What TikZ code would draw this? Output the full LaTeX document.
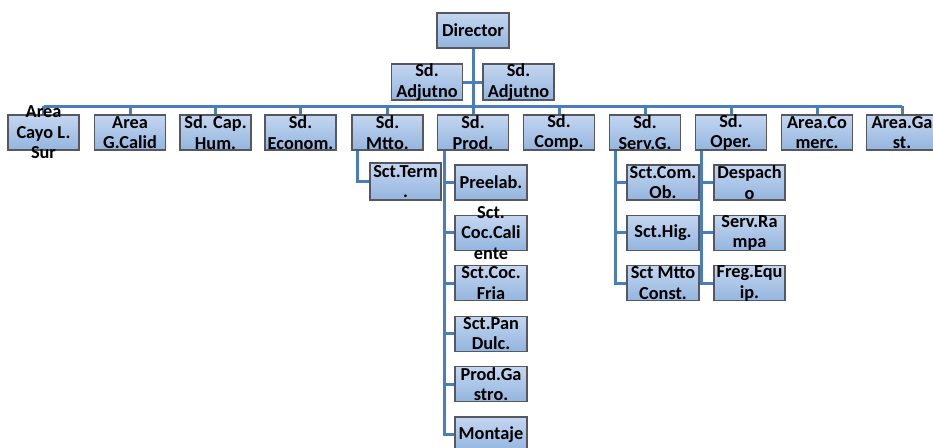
\documentclass[tikz,border=0pt]{standalone}
\usepackage{fontspec}
\newfontfamily\boxfont{Carlito}
\usetikzlibrary{backgrounds}
\definecolor{lineblue}{HTML}{4A7EBB}
\definecolor{boxtop}{RGB}{196,214,240}
\definecolor{boxbot}{RGB}{147,181,223}
\definecolor{boxline}{RGB}{85,88,96}
\tikzset{
  conn/.style={draw=lineblue, line width=3pt},
  box/.style={draw=boxline, line width=1.1pt, top color=boxtop, bottom color=boxbot,
    minimum width=71pt, minimum height=35pt, inner sep=0pt},
  txt/.style={align=center, font=\boxfont\bfseries\fontsize{18.3}{20.5}\selectfont, inner sep=0pt, text=black}
}
\begin{document}
\begin{tikzpicture}[x=1pt,y=-1pt]
\useasboundingbox (0,0) rectangle (933,447);
% top
\node[box, minimum width=72pt, label={[txt]center:Director}] (dir) at (473,30.5) {};
\node[box, minimum height=36pt, label={[txt]center:{Sd.\\Adjutno}}] (adj1) at (427,82) {};
\node[box, minimum height=36pt, label={[txt]center:{Sd.\\Adjutno}}] (adj2) at (518.5,82) {};
% level 2
\node[box, label={[txt]center:{Area\\Cayo L.\\Sur}}] (cayo) at (43.5,132.5) {};
\node[box, label={[txt]center:{Area\\G.Calid}}] (calid) at (130,132.5) {};
\node[box, label={[txt]center:{Sd. Cap.\\Hum.}}] (cap) at (215.5,132.5) {};
\node[box, label={[txt]center:{Sd.\\Econom.}}] (econ) at (300.5,132.5) {};
\node[box, label={[txt]center:{Sd.\\Mtto.}}] (mtto) at (387.5,132.5) {};
\node[box, label={[txt]center:{Sd.\\Prod.}}] (prod) at (473,132.5) {};
\node[box, label={[txt]center:{Sd.\\Comp.}}] (comp) at (559,132.5) {};
\node[box, label={[txt]center:{Sd.\\Serv.G.}}] (serv) at (645,132.5) {};
\node[box, label={[txt]center:{Sd.\\Oper.}}] (oper) at (731,132.5) {};
\node[box, label={[txt]center:{Area.Co\\merc.}}] (comerc) at (817,132.5) {};
\node[box, label={[txt]center:{Area.Ga\\st.}}] (gast) at (902,132.5) {};
% Mtto
\node[box, minimum height=37pt, label={[txt]center:{Sct.Term\\.}}] (term) at (405.5,181.5) {};
% Prod
\node[box, minimum width=72pt, label={[txt]center:{Preelab.}}] (pre) at (491,182.5) {};
\node[box, minimum width=72pt, label={[txt]center:{Sct.\\Coc.Cali\\ente}}] (cal) at (491,232.9) {};
\node[box, minimum width=72pt, label={[txt]center:{Sct.Coc.\\Fria}}] (fria) at (491,283.3) {};
\node[box, minimum width=72pt, label={[txt]center:{Sct.Pan\\Dulc.}}] (pan) at (491,333.7) {};
\node[box, minimum width=72pt, label={[txt]center:{Prod.Ga\\stro.}}] (gas) at (491,384.1) {};
\node[box, minimum width=72pt, label={[txt]center:{Montaje}}] (mont) at (491,434.5) {};
% Serv.G
\node[box, minimum width=72pt, label={[txt]center:{Sct.Com.\\Ob.}}] (ob) at (663,182.5) {};
\node[box, minimum width=72pt, label={[txt]center:{Sct.Hig.}}] (hig) at (663,232.9) {};
\node[box, minimum width=72pt, label={[txt]center:{Sct Mtto\\Const.}}] (const) at (663,283.3) {};
% Oper
\node[box, label={[txt]center:{Despach\\o}}] (desp) at (749.5,182.5) {};
\node[box, label={[txt]center:{Serv.Ra\\mpa}}] (ramp) at (749.5,232.9) {};
\node[box, label={[txt]center:{Freg.Equ\\ip.}}] (freg) at (749.5,283.3) {};

\begin{scope}[on background layer]
\coordinate (bus) at (0,106);
\draw[conn] (dir.south) -- (dir.south |- bus);
\draw[conn] (adj1.east) -- (adj2.west);
\draw[conn] (cayo.north |- bus) -- (gast.north |- bus);
\foreach \n in {cayo,calid,cap,econ,mtto,prod,comp,serv,oper,comerc,gast}
  \draw[conn] (\n.north |- bus) -- (\n.north);
\coordinate (mx) at ([xshift=6pt]mtto.south west);
\draw[conn] (mx) |- (term.west);
\coordinate (px) at ([xshift=8pt]prod.south west);
\draw[conn] (px) |- (mont.west);
\foreach \n in {pre,cal,fria,pan,gas}
  \draw[conn] (px |- \n.west) -- (\n.west);
\coordinate (sx) at ([xshift=7pt]serv.south west);
\draw[conn] (sx) |- (const.west);
\foreach \n in {ob,hig}
  \draw[conn] (sx |- \n.west) -- (\n.west);
\coordinate (ox) at ([xshift=7pt]oper.south west);
\draw[conn] (ox) |- (freg.west);
\foreach \n in {desp,ramp}
  \draw[conn] (ox |- \n.west) -- (\n.west);
\end{scope}
\end{tikzpicture}
\end{document}
